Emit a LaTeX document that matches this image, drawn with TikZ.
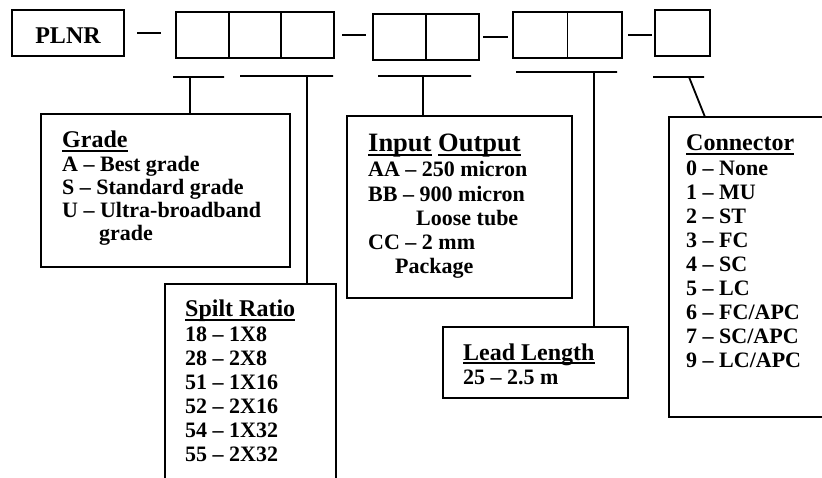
\documentclass[tikz,border=0pt]{standalone}
\usepackage{fontspec}
\setmainfont{Liberation Serif}
\newcommand{\ulhead}[1]{\setbox0\hbox{#1}\rlap{\rule[-4pt]{\wd0}{2.4pt}}\box0\relax}

\begin{document}
\begin{tikzpicture}[x=1pt,y=-1pt,
  cell/.style = {draw, line width=1.8pt, minimum height=46pt, inner sep=0pt, outer sep=0pt},
  panel/.style = {draw, line width=1.8pt, anchor=north west, inner sep=0pt, outer sep=0pt},
  bar/.style = {draw, line width=1.8pt, minimum height=0pt, inner sep=0pt, outer sep=0pt, text height=0pt, text depth=0pt},
  item/.style = {anchor=base west, inner sep=0pt, font=\fontsize{22}{24}\selectfont\bfseries},
  head/.style = {anchor=base west, inner sep=0pt, font=\fontsize{24}{26}\selectfont\bfseries}]
\clip (0,0) rectangle (822,478); \fill[white] (0,0) rectangle (822,478);
% code boxes
\node[cell, minimum width=112pt, text height=22pt, text depth=0pt, font=\fontsize{24}{26}\selectfont\bfseries] (plnr) at (68,33) {PLNR};
\node[cell, minimum width=52.7pt](g1a) at (202.3,35) {}; \node[cell, minimum width=52.7pt](g1b) at (255,35) {}; \node[cell, minimum width=52.7pt](g1c) at (307.7,35) {};
\node[cell, minimum width=53pt](g2a) at (399.5,37) {}; \node[cell, minimum width=53pt](g2b) at (452.5,37) {};
\node[cell, minimum width=54.5pt](g3a) at (540.25,35) {}; \node[cell, minimum width=54.5pt](g3b) at (594.75,35) {};
\node[cell, minimum width=55pt](g4a) at (682.5,33) {};
\draw [line width=1.8pt] ([xshift=13pt]plnr.east) -- +(24,0); \draw [line width=1.8pt] ([xshift=8pt]g1c.east) -- +(24,0);
\draw [line width=1.8pt] ([xshift=4pt]g2b.east) -- +(25,0); \draw [line width=1.8pt] ([xshift=6pt]g3b.east) -- +(24,0);
% bars under the codes
\node[bar, minimum width=51pt](bar1) at (198.5,77) {}; \node[bar, minimum width=93pt](bar2) at (286.5,76) {}; \node[bar, minimum width=93pt](bar3) at (424.5,76) {};
\node[bar, minimum width=101pt](bar4) at (566.5,72) {}; \node[bar, minimum width=51pt](bar5) at (678.5,77) {};
% legend panels
\node[panel, minimum width=249pt, minimum height=153pt](grade) at (41,114) {};
\node[panel, minimum width=171pt, minimum height=230pt](spilt) at (165,284) {};
\node[panel, minimum width=225pt, minimum height=182pt](io) at (347,116) {};
\node[panel, minimum width=185pt, minimum height=71pt](lead) at (443,327) {};
\node[panel, minimum width=170pt, minimum height=300pt](conn) at (669,117) {};
% stems
\coordinate (s1) at ([xshift=-8.5pt]bar1.center); \coordinate (s2) at ([xshift=20.5pt]bar2.center); \coordinate (s3) at ([xshift=-1.5pt]bar3.center); \coordinate (s4) at ([xshift=27.5pt]bar4.center);
\draw [line width=1.8pt] (s1) -- (s1 |- grade.north); \draw [line width=1.8pt] (s2) -- (s2 |- spilt.north);
\draw [line width=1.8pt] (s3) -- (s3 |- io.north); \draw [line width=1.8pt] (s4) -- (s4 |- lead.north);
\draw [line width=1.8pt] ([xshift=10.5pt]bar5.center) -- ([xshift=36pt]conn.north west);
% texts
\node[head](gradeT) at (62,148) {\ulhead{Grade}};
\node[item](grade1) at (62,172) {A – Best grade}; \node[item](grade2) at (62,195) {S – Standard grade}; \node[item](grade3) at (62,218) {U – Ultra-broadband}; \node[item](grade4) at (99,241) {grade};
\node[head](spiltT) at (185,317) {\ulhead{Spilt Ratio}};
\node[item](spilt1) at (185,341.5) {18 – 1X8}; \node[item](spilt2) at (185,365.5) {28 – 2X8}; \node[item](spilt3) at (185,389.5) {51 – 1X16};
\node[item](spilt4) at (185,413.5) {52 – 2X16}; \node[item](spilt5) at (185,437.5) {54 – 1X32}; \node[item](spilt6) at (185,461.5) {55 – 2X32};
\node[head, font=\fontsize{26.5}{28}\selectfont\bfseries](ioT) at (368,152) {\ulhead{Input} \ulhead{Output}};
\node[item](io1) at (368,177) {AA – 250 micron}; \node[item](io2) at (368,201.5) {BB – 900 micron}; \node[item](io3) at (416,226) {Loose tube};
\node[item](io4) at (368,250) {CC – 2 mm}; \node[item](io5) at (395,274) {Package};
\node[head](leadT) at (463,360) {\ulhead{Lead Length}}; \node[item](lead1) at (463,384) {25 – 2.5 m};
\node[head](connT) at (686,151) {\ulhead{Connector}};
\node[item](conn0) at (686,176) {0 – None}; \node[item](conn1) at (686,199.9) {1 – MU}; \node[item](conn2) at (686,223.8) {2 – ST};
\node[item](conn3) at (686,247.7) {3 – FC}; \node[item](conn4) at (686,271.6) {4 – SC}; \node[item](conn5) at (686,295.5) {5 – LC};
\node[item](conn6) at (686,319.4) {6 – FC/APC}; \node[item](conn7) at (686,343.3) {7 – SC/APC}; \node[item](conn9) at (686,367.2) {9 – LC/APC};
\end{tikzpicture}
\end{document}
